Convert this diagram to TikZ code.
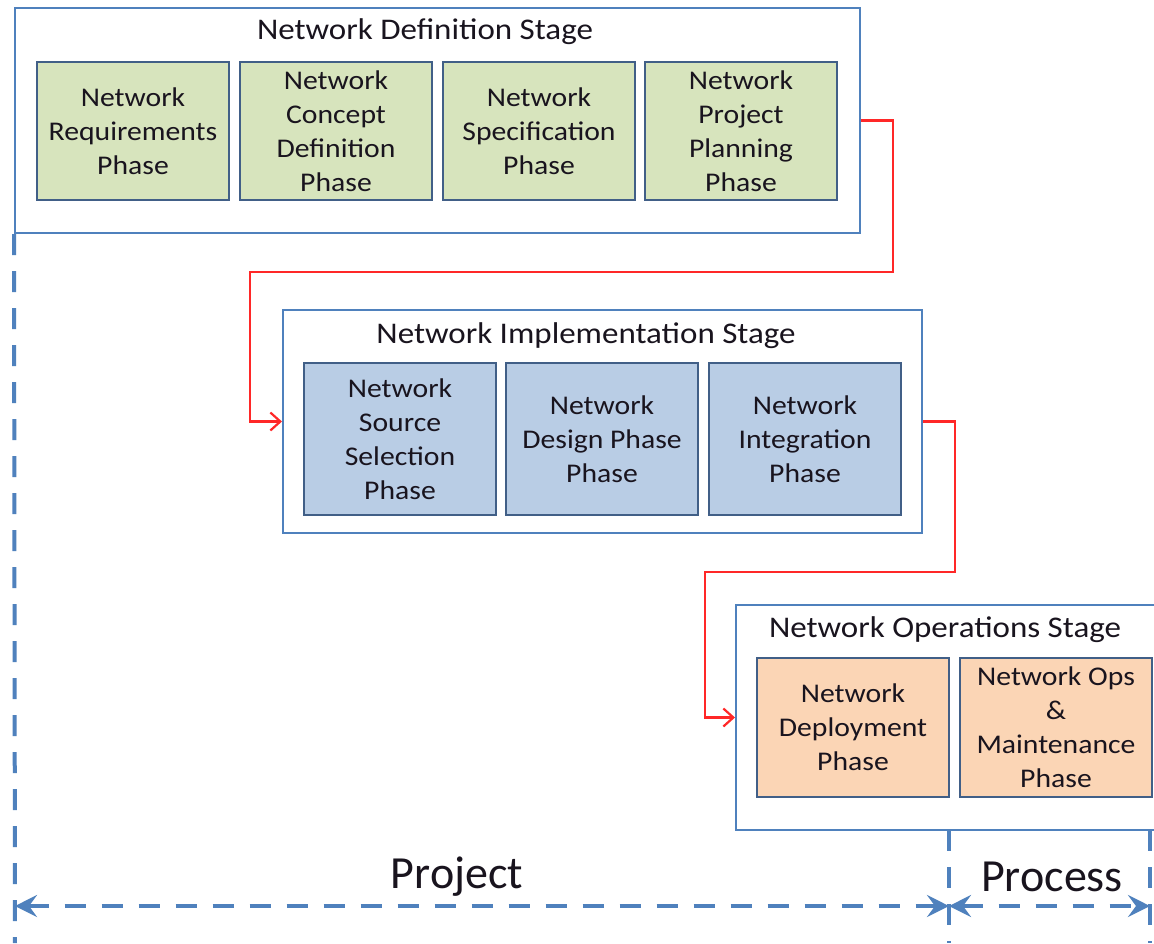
\documentclass[tikz,border=0pt]{standalone}
\usepackage{fontspec}
\setmainfont{Carlito}
\newfontfamily\widefont[FakeStretch=1.1]{Carlito}
\usetikzlibrary{arrows.meta,calc}
\definecolor{stageblue}{RGB}{79,129,189}
\definecolor{phaseedge}{RGB}{65,95,135}
\definecolor{greenfill}{RGB}{215,228,189}
\definecolor{bluefill}{RGB}{185,205,229}
\definecolor{orangefill}{RGB}{251,213,181}
\definecolor{flowred}{RGB}{255,40,40}
\definecolor{txt}{RGB}{25,20,30}
\tikzset{
  stagebox/.style={draw=stageblue, line width=1pt, fill=white, inner sep=0pt},
  phasebox/.style={draw=phaseedge, line width=1.2pt, inner sep=0pt, minimum width=96pt,
     align=center, text=txt, font=\widefont\fontsize{13.5}{17}\selectfont},
  greenphase/.style={phasebox, fill=greenfill, minimum height=69pt},
  bluephase/.style={phasebox, fill=bluefill, minimum height=76pt},
  orangephase/.style={phasebox, fill=orangefill, minimum height=69.5pt},
  stagetitle/.style={text=txt, font=\widefont\fontsize{15}{18}\selectfont, inner sep=0pt},
  flow/.style={draw=flowred, line width=1.1pt, -{Straight Barb[length=5pt,width=9pt]}},
  guide/.style={draw=stageblue, line width=2pt, dash pattern=on 10.5pt off 8pt},
  span/.style={guide, {Stealth[length=11pt,width=11pt,inset=4pt]}-{Stealth[length=11pt,width=11pt,inset=4pt]}},
  bigtext/.style={text=txt, font=\fontsize{23}{28}\selectfont, inner sep=0pt}
}
\begin{document}
\begin{tikzpicture}[x=0.5pt,y=-0.5pt]
\useasboundingbox (0,0) rectangle (1154,943);
\clip (0,0) rectangle (1154,943);
\fill[white] (0,0) rectangle (1154,943);

% stages
\node[stagebox, minimum width=422.5pt, minimum height=112.5pt] (def) at (437.5,120.5) {};
\node[stagebox, minimum width=319.5pt, minimum height=111.5pt] (impl) at (602.5,421.5) {};
\node[stagebox, minimum width=214.5pt, minimum height=112.5pt] (ops) at (950.5,717.5) {};

\node[stagetitle] (deft) at (425,32) {Network Definition Stage};
\node[stagetitle] (implt) at (586,336) {Network Implementation Stage};
\node[stagetitle] (opst) at (945,630) {Network Operations Stage};

% phases
\node[greenphase] (d1) at (133,131) {Network\\Requirements\\Phase};
\node[greenphase] (d2) at (336,131) {Network\\Concept\\Definition\\Phase};
\node[greenphase] (d3) at (539,131) {Network\\Specification\\Phase};
\node[greenphase] (d4) at (741,131) {Network\\Project\\Planning\\Phase};

\node[bluephase] (i1) at (400,439) {Network\\Source\\Selection\\Phase};
\node[bluephase] (i2) at (602,439) {Network\\Design Phase\\Phase};
\node[bluephase] (i3) at (805,439) {Network\\Integration\\Phase};

\node[orangephase] (o1) at (853,727.5) {Network\\Deployment\\Phase};
\node[orangephase] (o2) at (1056,727.5) {Network Ops\\\&\\Maintenance\\Phase};

% flow connectors
\coordinate (f1) at (893,272);
\coordinate (f2) at (250,425);
\coordinate (f3) at (955,572);
\coordinate (f4) at (705,718);
\draw[flow] (def.east) -| (f1) -| (impl.west -| f2) -- (impl.west);
\draw[flow] (impl.east) -| (f3) -| (ops.west -| f4) -- (ops.west);

% guides
\coordinate (gl) at (15,943);
\coordinate (gm) at (949,943);
\coordinate (gr) at (1150,943);
\coordinate (gmtop) at (949,830);
\coordinate (grtop) at (1150,830);
\draw[guide] (def.south west) -- (gl);
\draw[guide] (gmtop) -- (gm);
\draw[guide] (grtop) -- (gr);
\coordinate (al) at (15,906);
\coordinate (am) at (949,906);
\coordinate (ar) at (1150,906);
\draw[span] (al) -- (am);
\draw[span] (am) -- (ar);

\node[bigtext] (project) at (457,877) {Project};
\node[bigtext] (process) at (1052,877) {Process};
\end{tikzpicture}
\end{document}
